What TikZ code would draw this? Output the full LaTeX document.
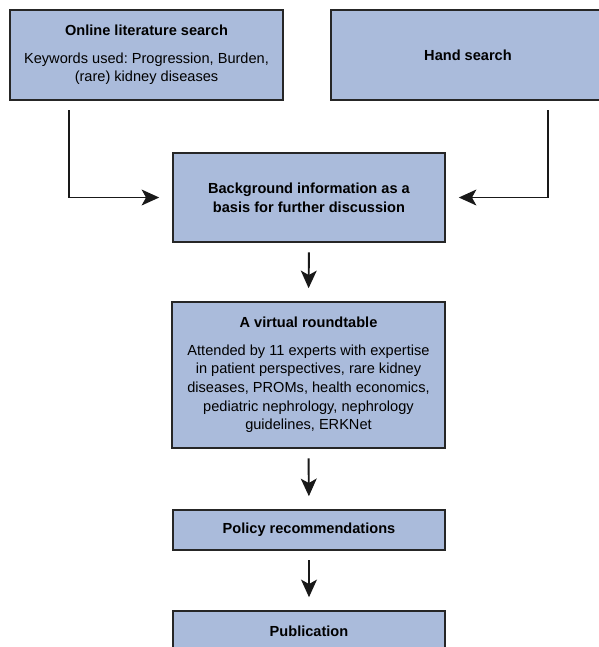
\documentclass[tikz,border=0pt]{standalone}
\usepackage{fontspec}
\setmainfont{Liberation Sans}
\usetikzlibrary{arrows.meta}
\definecolor{boxblue}{RGB}{170,187,219}
\frenchspacing

\begin{document}
\begin{tikzpicture}[x=0.02cm,y=-0.02cm,
        box/.style={draw=black!85,line width=0.9pt,fill=boxblue,align=center,
                inner sep=0pt,font=\fontsize{8.3}{10.6}\selectfont},
        flow/.style={-{Stealth[length=10pt,width=9pt,inset=2.5pt]},draw=black!90,
                line width=1.1pt,shorten <=5.5pt,shorten >=7.4pt}]
        \useasboundingbox (0,0) rectangle (599,647);
        \clip (0,0) rectangle (599,647);

        % Sources
        \node[box,minimum width=5.46cm,minimum height=1.8cm] (online) at (146.5,55)
                {\textbf{Online literature search}\\[5pt]
                 Keywords used: Progression, Burden,\\ (rare) kidney diseases};
        \node[box,minimum width=5.48cm,minimum height=1.8cm] (hand) at (468,55)
                {\textbf{Hand search}};

        % Main column
        \node[box,minimum width=5.44cm,minimum height=1.78cm] (background) at (309,197.5)
                {\textbf{Background information as a}\\ \textbf{basis for further discussion}};
        \node[box,minimum width=5.46cm,minimum height=2.92cm] (roundtable) at (308.5,375)
                {\textbf{A virtual roundtable}\\[5pt]
                 Attended by 11 experts with expertise\\ in patient perspectives, rare kidney\\
                 diseases, PROMs, health economics,\\ pediatric nephrology, nephrology\\
                 guidelines, ERKNet};
        \node[box,minimum width=5.44cm,minimum height=0.8cm] (policy) at (309,530)
                {\textbf{Policy recommendations}};
        \node[box,minimum width=5.44cm,minimum height=0.8cm] (publication) at (309,631)
                {\textbf{Publication}};

        % Arrows
        \draw[flow] ([xshift=1.2cm]online.south west) |- (background.west);
        \draw[flow] ([xshift=4.36cm]hand.south west) |- (background.east);
        \draw[flow] (background.south) -- (roundtable.north);
        \draw[flow] (roundtable.south) -- (policy.north);
        \draw[flow] (policy.south) -- (publication.north);
\end{tikzpicture}
\end{document}
